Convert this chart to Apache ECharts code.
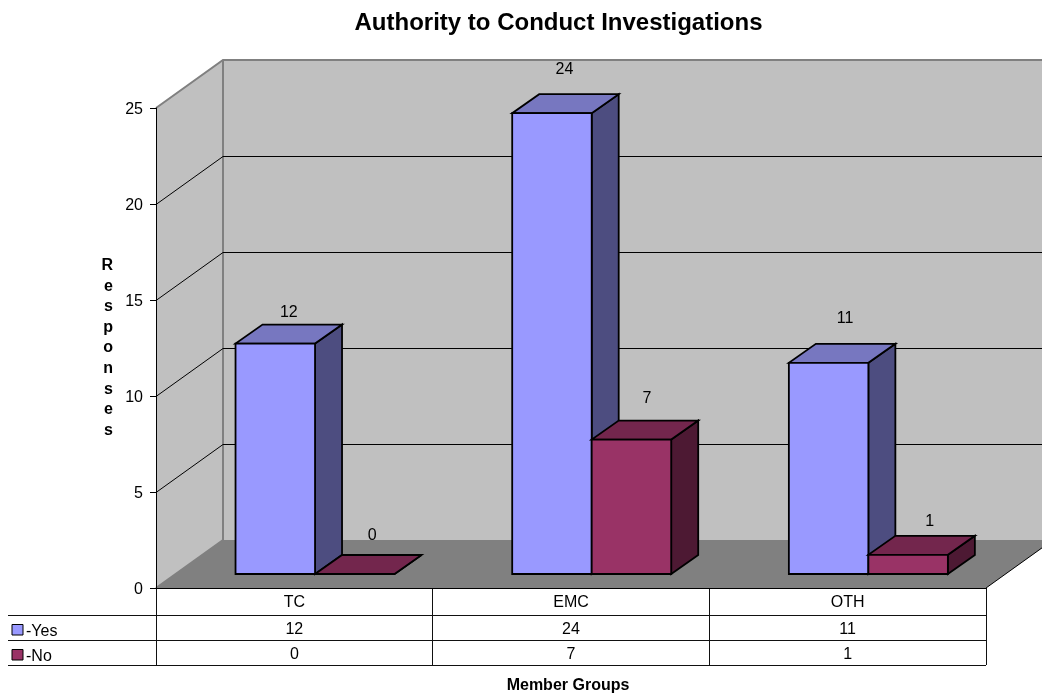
<!DOCTYPE html>
<html>
<head>
<meta charset="utf-8">
<title>Authority to Conduct Investigations</title>
<script src="https://cdn.jsdelivr.net/npm/echarts@6/dist/echarts.min.js"></script>
<style>
html, body { margin: 0; padding: 0; background: #fff; }
#chart { width: 1042px; height: 696px; }
</style>
</head>
<body>
<div id="chart"></div>
<script>
const categories = ['TC', 'EMC', 'OTH'];
const yesValues = [12, 24, 11];
const noValues = [0, 7, 1];
const yTicks = [0, 5, 10, 15, 20, 25];

// chart look, kept apart from the data
const FONT = '"Liberation Sans", Arial, sans-serif';
const WALL_DX = 67, WALL_DY = 48;   // depth of the chart box
const BAR_DX = 27, BAR_DY = 19;     // depth of one bar
const BAR_SHIFT_X = 20.7, BAR_SHIFT_Y = 14;
const BAR_W = 79.5;
const ROW_H = [27, 25, 25];
const TABLE_LEFT = 8;
// the label placement over each bar is irregular in the original
const yesLabelShift = [[0, 15], [-1, 27], [3, 28]];
const noLabelShift = [[4, 22], [2, 25], [8, 17]];

const chart = echarts.init(document.getElementById('chart'));

function renderWalls(params, api) {
    const v = api.value(0);
    const p = api.coord([0, v]);
    const band = api.size([1, 0])[0];
    const left = p[0] - band / 2;
    const right = left + band * categories.length;
    const gridLine = { stroke: '#000', lineWidth: 1 };
    const children = [];
    if (params.dataIndex === 0) {
        const top = api.coord([0, yTicks[yTicks.length - 1]])[1];
        const bottom = p[1];
        const edge = { stroke: '#808080', lineWidth: 2 };
        children.push(
            { type: 'polygon', shape: { points: [[left + WALL_DX, top - WALL_DY], [right + WALL_DX, top - WALL_DY], [right + WALL_DX, bottom - WALL_DY], [left + WALL_DX, bottom - WALL_DY]] }, style: { fill: '#c0c0c0' } },
            { type: 'polygon', shape: { points: [[left, top], [left + WALL_DX, top - WALL_DY], [left + WALL_DX, bottom - WALL_DY], [left, bottom]] }, style: { fill: '#c0c0c0' } },
            { type: 'polygon', shape: { points: [[left, bottom], [right, bottom], [right + WALL_DX, bottom - WALL_DY], [left + WALL_DX, bottom - WALL_DY]] }, style: { fill: '#808080' } },
            { type: 'polyline', shape: { points: [[left, top], [left + WALL_DX, top - WALL_DY], [right + WALL_DX, top - WALL_DY]] }, style: Object.assign({ fill: null }, edge) },
            { type: 'line', shape: { x1: left + WALL_DX, y1: top - WALL_DY, x2: left + WALL_DX, y2: bottom - WALL_DY }, style: edge },
            { type: 'line', shape: { x1: left, y1: bottom, x2: left + WALL_DX, y2: bottom - WALL_DY }, style: edge },
            { type: 'line', shape: { x1: right, y1: bottom, x2: right + WALL_DX, y2: bottom - WALL_DY }, style: gridLine }
        );
    } else if (v !== yTicks[yTicks.length - 1]) {
        const y = p[1] + 0.5;
        children.push(
            { type: 'polyline', shape: { points: [[left, y], [left + WALL_DX, y - WALL_DY], [right + WALL_DX, y - WALL_DY]] }, style: Object.assign({ fill: null }, gridLine) }
        );
    }
    return { type: 'group', children: children };
}

function makeBarRenderer(slot, colors, labelShift) {
    return function (params, api) {
        const i = api.value(0);
        const val = api.value(1);
        const center = api.coord([i, 0]);
        const x0 = center[0] + BAR_SHIFT_X - (slot === 0 ? BAR_W : 0);
        const x1 = x0 + BAR_W;
        const y0 = center[1] - BAR_SHIFT_Y;
        const y1 = api.coord([i, val])[1] - BAR_SHIFT_Y;
        const line = { stroke: '#000', lineWidth: 1.8, lineJoin: 'miter' };
        const shift = labelShift[i];
        return {
            type: 'group',
            children: [
                { type: 'polygon', shape: { points: [[x1, y0], [x1 + BAR_DX, y0 - BAR_DY], [x1 + BAR_DX, y1 - BAR_DY], [x1, y1]] }, style: Object.assign({ fill: colors.side }, line) },
                { type: 'polygon', shape: { points: [[x0, y1], [x1, y1], [x1 + BAR_DX, y1 - BAR_DY], [x0 + BAR_DX, y1 - BAR_DY]] }, style: Object.assign({ fill: colors.top }, line) },
                { type: 'rect', shape: { x: x0, y: y1, width: BAR_W, height: y0 - y1 }, style: Object.assign({ fill: colors.front }, line) },
                { type: 'text', x: (x0 + x1 + BAR_DX) / 2 + shift[0], y: y1 - BAR_DY - shift[1] + 2.5,
                  style: { text: String(val), font: '16px ' + FONT, fill: '#000', align: 'center', verticalAlign: 'middle' } }
            ]
        };
    };
}

const tableRows = [
    { name: '-Yes', values: yesValues, color: '#9999ff' },
    { name: '-No', values: noValues, color: '#993366' }
];

function renderTable(params, api) {
    const origin = api.coord([0, 0]);
    const band = api.size([1, 0])[0];
    const left = origin[0] - band / 2;
    const right = left + band * categories.length;
    const tableBottom = origin[1] + ROW_H[0] + ROW_H[1] + ROW_H[2];
    const line = { stroke: '#111', lineWidth: 1 };
    const children = [];
    categories.forEach(function (c, i) {
        const x = Math.floor(left + band * (i + 1)) + 0.5;
        children.push({ type: 'line', shape: { x1: x, y1: origin[1], x2: x, y2: tableBottom }, style: line });
    });
    children.push({ type: 'line', shape: { x1: left + 0.5, y1: origin[1], x2: left + 0.5, y2: tableBottom }, style: line });
    let y = origin[1] + ROW_H[0];
    children.push({ type: 'line', shape: { x1: TABLE_LEFT, y1: y + 0.5, x2: right, y2: y + 0.5 }, style: line });
    tableRows.forEach(function (row, r) {
        const mid = y + ROW_H[r + 1] / 2;
        children.push(
            { type: 'rect', shape: { x: 12, y: Math.round(mid - 3) - 0.5, width: 11, height: 10.5 }, style: { fill: row.color, stroke: '#000', lineWidth: 1 } },
            { type: 'text', x: 26, y: mid + 4, style: { text: row.name, font: '16px ' + FONT, fill: '#000', align: 'left', verticalAlign: 'middle' } }
        );
        row.values.forEach(function (v, i) {
            children.push({ type: 'text', x: api.coord([i, 0])[0], y: mid + 2.5, style: { text: String(v), font: '16px ' + FONT, fill: '#000', align: 'center', verticalAlign: 'middle' } });
        });
        y += ROW_H[r + 1];
        children.push({ type: 'line', shape: { x1: TABLE_LEFT, y1: y + 0.5, x2: right, y2: y + 0.5 }, style: line });
    });
    return { type: 'group', children: children };
}

const option = {
    animation: false,
    backgroundColor: '#fff',
    textStyle: { fontFamily: FONT },
    title: {
        text: 'Authority to Conduct Investigations',
        left: 553.5,
        top: 6,
        textAlign: 'center',
        textStyle: { fontFamily: FONT, fontSize: 24, fontWeight: 'bold', color: '#000' }
    },
    grid: { left: 156, top: 108, width: 830, height: 480, outerBoundsMode: 'none' },
    xAxis: {
        type: 'category',
        data: categories,
        z: 5,
        name: 'Member Groups',
        nameLocation: 'middle',
        nameGap: 90,
        nameTextStyle: { fontFamily: FONT, fontSize: 16, fontWeight: 'bold', color: '#000', padding: [0, 6, 0, 0] },
        axisLine: { lineStyle: { color: '#000', width: 1 } },
        axisTick: { show: false },
        axisLabel: { color: '#000', fontSize: 16, margin: 7, fontFamily: FONT }
    },
    yAxis: {
        type: 'value',
        min: 0,
        max: 25,
        interval: 5,
        z: 5,
        name: 'R\ne\ns\np\no\nn\ns\ne\ns',
        nameLocation: 'middle',
        nameRotate: 0,
        nameGap: 43,
        nameTextStyle: { fontFamily: FONT, fontSize: 16, fontWeight: 'bold', color: '#000', lineHeight: 20.6 },
        axisLine: { show: true, lineStyle: { color: '#000', width: 1 } },
        axisTick: { show: true, length: 6, lineStyle: { color: '#000' } },
        axisLabel: { color: '#000', fontSize: 16, margin: 13, verticalAlign: 'top', lineHeight: 4, fontFamily: FONT },
        splitLine: { show: false }
    },
    series: [
        { type: 'custom', name: 'walls', renderItem: renderWalls, data: yTicks.map(function (v) { return [v]; }), encode: { y: 0 }, silent: true, z: 1 },
        { type: 'custom', name: '-Yes', renderItem: makeBarRenderer(0, { front: '#9999ff', side: '#4d4d80', top: '#7777c0' }, yesLabelShift),
          data: yesValues.map(function (v, i) { return [i, v]; }), encode: { x: 0, y: 1 }, z: 2 },
        { type: 'custom', name: '-No', renderItem: makeBarRenderer(1, { front: '#993366', side: '#4d1933', top: '#73264d' }, noLabelShift),
          data: noValues.map(function (v, i) { return [i, v]; }), encode: { x: 0, y: 1 }, z: 3 },
        { type: 'custom', name: 'table', renderItem: renderTable, data: [[0, 0]], encode: { x: 0, y: 1 }, silent: true, z: 4 }
    ]
};
chart.setOption(option);

window.addEventListener('resize', () => {
    chart.resize();
});
</script>
</body>
</html>
